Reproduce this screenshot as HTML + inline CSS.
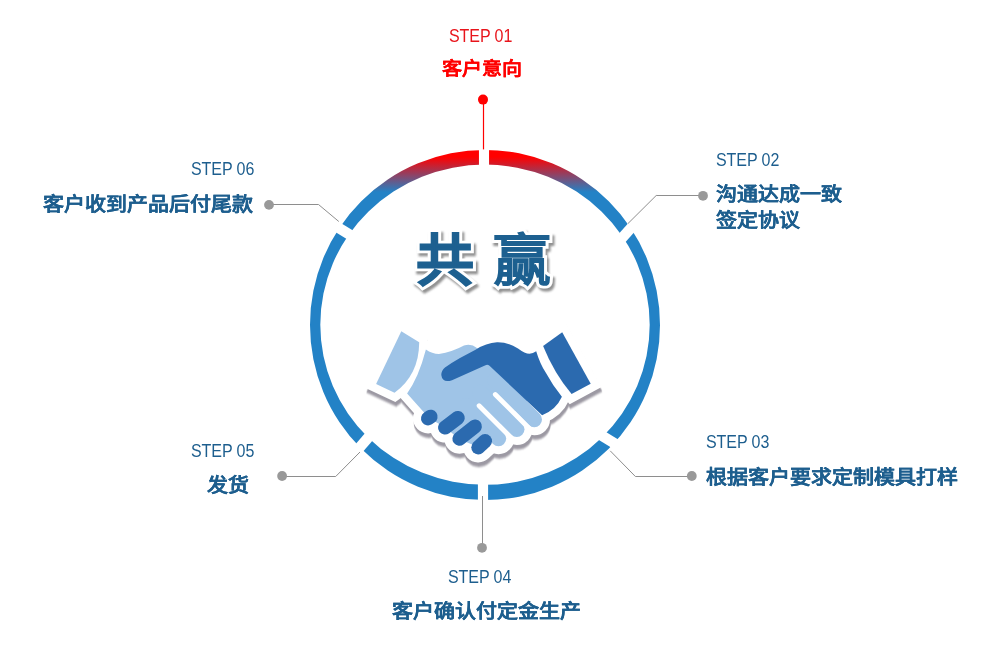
<!DOCTYPE html>
<html lang="zh-CN">
<head>
<meta charset="utf-8">
<style>
html,body{margin:0;padding:0;background:#fff;}
body{width:1000px;height:650px;position:relative;overflow:hidden;font-family:"Liberation Sans",sans-serif;}
svg.main{position:absolute;left:0;top:0;}
.t{position:absolute;white-space:nowrap;line-height:1;}
.step{font-size:18px;color:#1d5e8e;letter-spacing:-0.1px;transform:scaleX(0.89);transform-origin:0 0;}
.cn{font-size:21px;font-weight:bold;color:#1d5e8e;text-shadow:0.4px 0 0 currentColor;transform:scaleY(0.92);transform-origin:0 0;}
.red{color:#ff0000;}
.stepred{color:#e8141b;}
.win{position:absolute;font-size:58px;font-weight:500;white-space:nowrap;line-height:1;width:70px;height:70px;transform:scaleY(0.96);transform-origin:0 0;}
.win span{position:absolute;left:0;top:0;}
.win .sh{color:#858585;-webkit-text-stroke:8px #858585;left:2px;top:2.5px;filter:blur(1.2px);opacity:.9;}
.win .wh{color:#fff;-webkit-text-stroke:8px #fff;}
.win .mn{color:#1d6090;-webkit-text-stroke:2px #1d6090;}
</style>
</head>
<body>
<svg class="main" width="1000" height="650" viewBox="0 0 1000 650">
  <defs>
    <linearGradient id="rg" gradientUnits="userSpaceOnUse" x1="0" y1="157" x2="0" y2="192">
      <stop offset="0" stop-color="#ff0000"/>
      <stop offset="1" stop-color="#2382c6"/>
    </linearGradient>
  </defs>
  <!-- ring -->
  <path fill="url(#rg)" fill-rule="evenodd" d="M310,325 A175,175 0 1,0 660,325 A175,175 0 1,0 310,325 Z M320.3,324.7 A164.7,160.1 0 1,0 649.7,324.7 A164.7,160.1 0 1,0 320.3,324.7 Z"/>
  <!-- gaps -->
  <g stroke="#fff" stroke-width="10.5" fill="none">
    <line x1="484" y1="135" x2="484" y2="175" stroke-width="10.1"/>
    <line x1="483" y1="475" x2="483" y2="510" stroke-width="10.2"/>
    <line x1="326.6" y1="220.6" x2="361.3" y2="241.8"/>
    <line x1="641" y1="216.8" x2="612.7" y2="248.4"/>
    <line x1="350.5" y1="458.2" x2="377.3" y2="427"/>
    <line x1="592.6" y1="430" x2="627" y2="451"/>
  </g>
  <!-- connectors -->
  <g stroke="#8e8e8e" stroke-width="1" fill="none">
    <polyline points="269,204.5 318.5,204.5 338.8,221.5"/>
    <polyline points="703,195.5 656.2,195.5 628,223.5"/>
    <polyline points="691.8,476.5 635.4,476.5 610.2,450.8"/>
    <polyline points="282.1,476.5 335.7,476.5 360,452"/>
    <line x1="482.5" y1="496" x2="482.5" y2="548"/>
  </g>
  <line x1="483.5" y1="99.6" x2="483.5" y2="149.4" stroke="#ff0000" stroke-width="1.2"/>
  <g fill="#999">
    <circle cx="269" cy="204.85" r="4.9"/>
    <circle cx="703" cy="195.8" r="4.9"/>
    <circle cx="691.8" cy="476" r="4.9"/>
    <circle cx="282.1" cy="476" r="4.9"/>
    <circle cx="482" cy="547.8" r="4.9"/>
  </g>
  <circle cx="483" cy="99.6" r="5" fill="#ff0000"/>
  <!-- handshake -->
  <filter id="shb" x="340" y="300" width="300" height="200" filterUnits="userSpaceOnUse"><feGaussianBlur stdDeviation="0.3 1.3"/></filter>
  <g filter="url(#shb)" transform="translate(0.8,4.5)">
    <path d="M401.3,331.2 L419.2,342.2 Q419,375 394.5,392.7 L376.1,384.1 Z" fill="#9c99a3" stroke="#9c99a3" stroke-width="16" stroke-linejoin="miter" stroke-miterlimit="6"/>
    <path d="M425.9,349.6 Q432,354 439,354 Q452,352 464,345.5 Q471,343 477,348 L492,358 L530,398 L505,420 L488,436 L478,447 L459,439 L446,428 L429,418 L407.1,393.4 Q418.5,378 425.9,349.6 Z" fill="#9c99a3" stroke="#9c99a3" stroke-width="16" stroke-linejoin="miter" stroke-miterlimit="6"/>
    <path d="M543.1,345.9 L562.2,332.3 L590.7,383.7 L571.6,394 Q554,373 543.1,345.9 Z" fill="#9c99a3" stroke="#9c99a3" stroke-width="16" stroke-linejoin="miter" stroke-miterlimit="6"/>
    <path d="M445,367.5 Q452,362.5 460,358 L476,349.5 Q486,343 497,342.3 Q508,342 518,348.5 Q525,353.8 529.5,353.8 Q533,353.5 536.2,351.2 Q540,364 546,373 Q553,386 561.9,396.8 Q556,410 542.1,415.2 L489.5,365.8 Q487.7,364.3 485.5,365.2 L452,380.2 Q442.5,383.5 441.3,375 Q441.5,370 445,367.5 Z" fill="#9c99a3" stroke="#9c99a3" stroke-width="16" stroke-linejoin="miter" stroke-miterlimit="6"/>
    <line x1="495" y1="380" x2="534.3" y2="419.5" stroke="#9c99a3" stroke-width="31.4" stroke-linecap="round"/>
    <line x1="480" y1="392.5" x2="516.8" y2="429.3" stroke="#9c99a3" stroke-width="31.4" stroke-linecap="round"/>
    <line x1="466" y1="406" x2="498.5" y2="438.5" stroke="#9c99a3" stroke-width="31.4" stroke-linecap="round"/>
    <line x1="428" y1="418.4" x2="430.6" y2="416.7" stroke="#9c99a3" stroke-width="30" stroke-linecap="round"/>
    <line x1="445" y1="427.6" x2="457.8" y2="417.9" stroke="#9c99a3" stroke-width="30" stroke-linecap="round"/>
    <line x1="459.4" y1="438.7" x2="474.9" y2="426.4" stroke="#9c99a3" stroke-width="30" stroke-linecap="round"/>
    <line x1="478.3" y1="447.4" x2="485" y2="441.1" stroke="#9c99a3" stroke-width="30" stroke-linecap="round"/>
  </g>
  <g>
    <path d="M401.3,331.2 L419.2,342.2 Q419,375 394.5,392.7 L376.1,384.1 Z" fill="#fff" stroke="#fff" stroke-width="16" stroke-linejoin="miter" stroke-miterlimit="6"/>
    <path d="M425.9,349.6 Q432,354 439,354 Q452,352 464,345.5 Q471,343 477,348 L492,358 L530,398 L505,420 L488,436 L478,447 L459,439 L446,428 L429,418 L407.1,393.4 Q418.5,378 425.9,349.6 Z" fill="#fff" stroke="#fff" stroke-width="16" stroke-linejoin="miter" stroke-miterlimit="6"/>
    <path d="M543.1,345.9 L562.2,332.3 L590.7,383.7 L571.6,394 Q554,373 543.1,345.9 Z" fill="#fff" stroke="#fff" stroke-width="16" stroke-linejoin="miter" stroke-miterlimit="6"/>
    <path d="M445,367.5 Q452,362.5 460,358 L476,349.5 Q486,343 497,342.3 Q508,342 518,348.5 Q525,353.8 529.5,353.8 Q533,353.5 536.2,351.2 Q540,364 546,373 Q553,386 561.9,396.8 Q556,410 542.1,415.2 L489.5,365.8 Q487.7,364.3 485.5,365.2 L452,380.2 Q442.5,383.5 441.3,375 Q441.5,370 445,367.5 Z" fill="#fff" stroke="#fff" stroke-width="16" stroke-linejoin="miter" stroke-miterlimit="6"/>
    <line x1="495" y1="380" x2="534.3" y2="419.5" stroke="#fff" stroke-width="31.4" stroke-linecap="round"/>
    <line x1="480" y1="392.5" x2="516.8" y2="429.3" stroke="#fff" stroke-width="31.4" stroke-linecap="round"/>
    <line x1="466" y1="406" x2="498.5" y2="438.5" stroke="#fff" stroke-width="31.4" stroke-linecap="round"/>
    <line x1="428" y1="418.4" x2="430.6" y2="416.7" stroke="#fff" stroke-width="30" stroke-linecap="round"/>
    <line x1="445" y1="427.6" x2="457.8" y2="417.9" stroke="#fff" stroke-width="30" stroke-linecap="round"/>
    <line x1="459.4" y1="438.7" x2="474.9" y2="426.4" stroke="#fff" stroke-width="30" stroke-linecap="round"/>
    <line x1="478.3" y1="447.4" x2="485" y2="441.1" stroke="#fff" stroke-width="30" stroke-linecap="round"/>
  </g>
  <g>
    <path d="M401.3,331.2 L419.2,342.2 Q419,375 394.5,392.7 L376.1,384.1 Z" fill="#9fc4e7"/>
<path d="M425.9,349.6 Q432,354 439,354 Q452,352 464,345.5 Q471,343 477,348 L492,358 L530,398 L505,420 L488,436 L478,447 L459,439 L446,428 L429,418 L407.1,393.4 Q418.5,378 425.9,349.6 Z" fill="#9fc4e7"/>
    <line x1="495" y1="380" x2="534.3" y2="419.5" stroke="#9fc4e7" stroke-width="15.4" stroke-linecap="round"/>
<line x1="480" y1="392.5" x2="516.8" y2="429.3" stroke="#9fc4e7" stroke-width="15.4" stroke-linecap="round"/>
<line x1="466" y1="406" x2="498.5" y2="438.5" stroke="#9fc4e7" stroke-width="15.4" stroke-linecap="round"/>
    <line x1="495.3" y1="394.5" x2="532" y2="431.2" stroke="#fff" stroke-width="4.8" stroke-linecap="round"/>
<line x1="479.1" y1="405.8" x2="514" y2="440.7" stroke="#fff" stroke-width="4.8" stroke-linecap="round"/>
    <path d="M543.1,345.9 L562.2,332.3 L590.7,383.7 L571.6,394 Q554,373 543.1,345.9 Z" fill="#2b6aaf"/>
<path d="M445,367.5 Q452,362.5 460,358 L476,349.5 Q486,343 497,342.3 Q508,342 518,348.5 Q525,353.8 529.5,353.8 Q533,353.5 536.2,351.2 Q540,364 546,373 Q553,386 561.9,396.8 Q556,410 542.1,415.2 L489.5,365.8 Q487.7,364.3 485.5,365.2 L452,380.2 Q442.5,383.5 441.3,375 Q441.5,370 445,367.5 Z" fill="#2b6aaf"/>
    <line x1="428" y1="418.4" x2="430.6" y2="416.7" stroke="#2b6aaf" stroke-width="14" stroke-linecap="round"/>
<line x1="445" y1="427.6" x2="457.8" y2="417.9" stroke="#2b6aaf" stroke-width="14" stroke-linecap="round"/>
<line x1="459.4" y1="438.7" x2="474.9" y2="426.4" stroke="#2b6aaf" stroke-width="14" stroke-linecap="round"/>
<line x1="478.3" y1="447.4" x2="485" y2="441.1" stroke="#2b6aaf" stroke-width="14" stroke-linecap="round"/>
  </g>
</svg>

<div class="t step stepred" style="left:448.8px;top:27.4px;">STEP 01</div>
<div class="t cn red" style="left:442px;top:59px;font-size:20px;">客户意向</div>

<div class="t step" style="left:715.7px;top:151.2px;">STEP 02</div>
<div class="t cn" style="left:716px;top:183.8px;">沟通达成一致</div>
<div class="t cn" style="left:716px;top:210.4px;">签定协议</div>

<div class="t step" style="left:705.6px;top:433.2px;">STEP 03</div>
<div class="t cn" style="left:705.5px;top:466.8px;">根据客户要求定制模具打样</div>

<div class="t step" style="left:447.8px;top:567.7px;">STEP 04</div>
<div class="t cn" style="left:391.5px;top:600.7px;">客户确认付定金生产</div>

<div class="t step" style="left:190.8px;top:442.4px;">STEP 05</div>
<div class="t cn" style="left:207px;top:475.2px;">发货</div>

<div class="t step" style="left:190.6px;top:160px;">STEP 06</div>
<div class="t cn" style="left:42.5px;top:194px;">客户收到产品后付尾款</div>

<div class="win" style="left:415.8px;top:232.9px;"><span class="sh" style="-webkit-text-stroke-width:9px">共</span><span class="wh" style="-webkit-text-stroke-width:9px">共</span><span class="mn" style="-webkit-text-stroke-width:3px">共</span></div>
<div class="win" style="left:493.4px;top:233px;"><span class="sh">赢</span><span class="wh">赢</span><span class="mn">赢</span></div>
</body>
</html>
